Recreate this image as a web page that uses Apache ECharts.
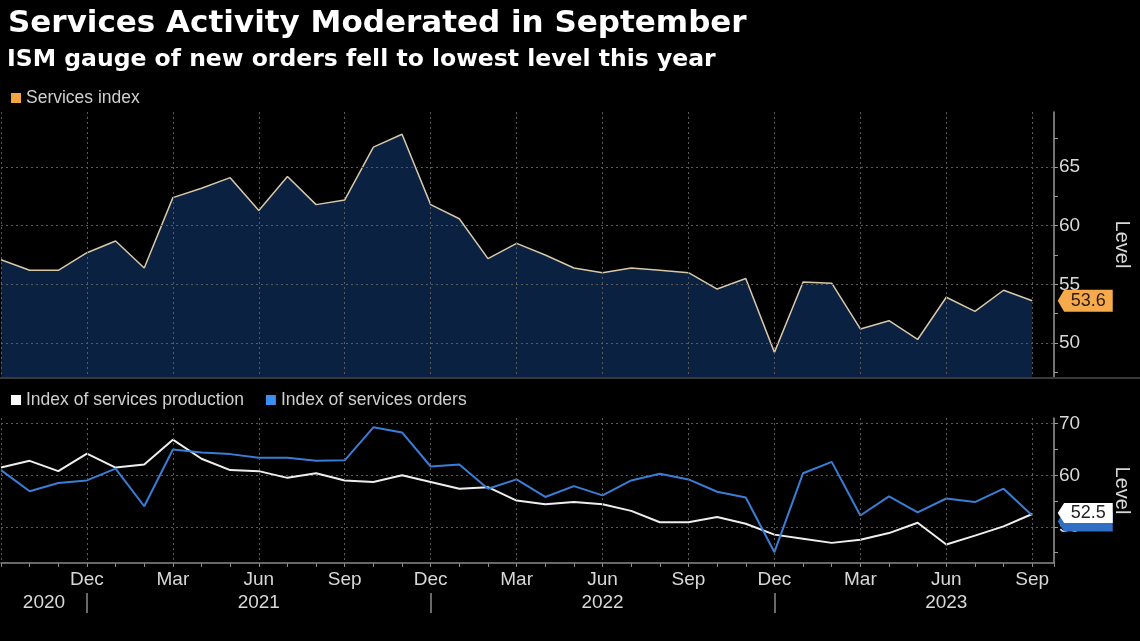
<!DOCTYPE html>
<html>
<head>
<meta charset="utf-8">
<script src="https://cdn.jsdelivr.net/npm/echarts@6/dist/echarts.min.js"></script>
<style>
html,body{margin:0;padding:0;background:#000;}
#chart{width:1140px;height:641px;}
</style>
</head>
<body>
<div id="chart"></div>
<script>
// ---- data ----
const months = [
  'Sep 2020','Oct 2020','Nov 2020','Dec 2020',
  'Jan 2021','Feb 2021','Mar 2021','Apr 2021','May 2021','Jun 2021','Jul 2021','Aug 2021','Sep 2021','Oct 2021','Nov 2021','Dec 2021',
  'Jan 2022','Feb 2022','Mar 2022','Apr 2022','May 2022','Jun 2022','Jul 2022','Aug 2022','Sep 2022','Oct 2022','Nov 2022','Dec 2022',
  'Jan 2023','Feb 2023','Mar 2023','Apr 2023','May 2023','Jun 2023','Jul 2023','Aug 2023','Sep 2023'
];
const servicesIndex = [
  57.1, 56.2, 56.2, 57.7,
  58.7, 56.4, 62.4, 63.2, 64.1, 61.3, 64.2, 61.8, 62.2, 66.7, 67.8, 61.8,
  60.6, 57.2, 58.5, 57.5, 56.4, 56.0, 56.4, 56.2, 56.0, 54.6, 55.5, 49.2,
  55.2, 55.1, 51.2, 51.9, 50.3, 53.9, 52.7, 54.5, 53.6
];
const servicesProduction = [
  61.5, 62.8, 60.8, 64.2,
  61.5, 62.1, 66.9, 63.2, 61.0, 60.8, 59.5, 60.4, 59.0, 58.7, 60.0, 58.7,
  57.4, 57.7, 55.1, 54.4, 54.8, 54.4, 53.1, 50.9, 50.9, 51.9, 50.6, 48.5,
  47.7, 46.9, 47.5, 48.8, 50.8, 46.6, 48.3, 50.1, 52.5
];
const servicesOrders = [
  61.0, 56.9, 58.5, 59.0,
  61.3, 54.0, 65.0, 64.4, 64.1, 63.4, 63.4, 62.8, 62.9, 69.3, 68.3, 61.7,
  62.1, 57.4, 59.2, 55.8, 57.9, 56.1, 59.0, 60.3, 59.2, 56.8, 55.7, 45.1,
  60.4, 62.6, 52.2, 55.9, 52.8, 55.5, 54.8, 57.4, 52.2
];
const topTicks = [50, 55, 60, 65];
const topMinorTicks = [47.5, 50, 52.5, 55, 57.5, 60, 62.5, 65, 67.5];
const bottomTicks = [50, 60, 70];
const bottomMinorTicks = [45, 50, 55, 60, 65, 70];

// ---- helpers ----
// month positions on the x scale start at 3 (Sep 2020) so ticks every 3 months fall on Sep/Dec/Mar/Jun
const START = 3;
const toPairs = arr => arr.map((v, i) => [i + START, v]);
const lastIdx = months.length - 1;
const xMin = START;
const xMax = lastIdx + START + 0.76;
const monthName = i => months[i].split(' ')[0];
const yearOf = i => months[i].split(' ')[1];
const years = [...new Set(months.map((m, i) => yearOf(i)))];
const decIdx = months.map((m, i) => i).filter(i => monthName(i) === 'Dec' && i < lastIdx).map(i => i + START);
const yearCenters = years.map(y => {
  const decPrev = months.indexOf('Dec ' + (Number(y) - 1));
  const decThis = months.indexOf('Dec ' + y);
  if (decPrev < 0) return decThis / 2 + START;
  return decPrev + 6 + START;
});

const FONT = 'Liberation Sans';
const labelColor = '#d8d8d8';
const gridDot = { type: [2, 3], color: '#5a5a5a', width: 1 };
const tagPath = 'path://M0,11L7,0H60V22H7Z';
const gridMarkLine = ticks => ({
  silent: true, symbol: 'none', z: 5, animation: false,
  label: { show: false }, emphasis: { disabled: true },
  lineStyle: gridDot,
  data: ticks.map(v => ({ yAxis: v }))
});

const chart = echarts.init(document.getElementById('chart'));
chart.setOption({
  backgroundColor: '#000',
  animation: false,
  textStyle: { fontFamily: FONT },
  title: [
    { text: 'Services Activity Moderated in September', left: 3, top: 3,
      textStyle: { color: '#fff', fontFamily: 'DejaVu Sans', fontWeight: 'bold', fontSize: 31 } },
    { text: 'ISM gauge of new orders fell to lowest level this year', left: 2, top: 43,
      textStyle: { color: '#fff', fontFamily: 'DejaVu Sans', fontWeight: 'bold', fontSize: 23.5 } }
  ],
  legend: [
    { left: 6, top: 84, icon: 'rect', itemWidth: 10, itemHeight: 10, itemGap: 17,
      textStyle: { color: '#cfcfcf', fontSize: 17.5, fontFamily: FONT },
      data: [{ name: 'Services index', itemStyle: { color: '#f5a442' } }] },
    { left: 6, top: 386, icon: 'rect', itemWidth: 10, itemHeight: 10, itemGap: 22,
      textStyle: { color: '#cfcfcf', fontSize: 17.5, fontFamily: FONT },
      data: [{ name: 'Index of services production', itemStyle: { color: '#ffffff' } },
             { name: 'Index of services orders', itemStyle: { color: '#3d8fef' } }] }
  ],
  graphic: [
    { type: 'rect', left: 0, top: 377, shape: { width: 1140, height: 2 }, style: { fill: '#3a3a3a' }, z: 5 }
  ],
  grid: [
    { left: 1, right: 85, top: 112, height: 265 },
    { left: 1, right: 85, top: 418, height: 145 }
  ],
  xAxis: [
    { gridIndex: 0, type: 'value', min: xMin, max: xMax, interval: 3, z: 3,
      axisLine: { show: false }, axisTick: { show: false }, axisLabel: { show: false },
      splitLine: { show: true, showMaxLine: false, lineStyle: gridDot } },
    { gridIndex: 1, type: 'value', min: xMin, max: xMax, interval: 3, z: 3,
      axisLine: { show: true, lineStyle: { color: '#8a8a8a', width: 1.5 } },
      axisTick: { show: true, length: 4, lineStyle: { color: '#8a8a8a' } },
      minorTick: { show: true, splitNumber: 3, length: 4, lineStyle: { color: '#8a8a8a' } },
      axisLabel: { color: labelColor, fontSize: 19, margin: 7, showMinLabel: false,
        formatter: v => { const i = v - START; return (Number.isInteger(i) && i > 0 && i <= lastIdx) ? monthName(i) : ''; } },
      splitLine: { show: true, showMaxLine: false, lineStyle: gridDot } },
    { gridIndex: 1, type: 'value', min: xMin, max: xMax, position: 'bottom', offset: 30,
      axisLine: { show: false },
      axisTick: { show: true, customValues: decIdx, length: 20, lineStyle: { color: '#8a8a8a', width: 1.5 } },
      axisLabel: { show: true, customValues: yearCenters, color: labelColor, fontSize: 19, margin: 0,
        formatter: v => years[yearCenters.indexOf(v)] || '' },
      splitLine: { show: false } }
  ],
  yAxis: [
    { gridIndex: 0, type: 'value', position: 'right', min: 47.1, max: 69.7,
      axisLine: { show: true, lineStyle: { color: '#9a9a9a', width: 1.5 } },
      axisTick: { show: true, length: 4, customValues: topMinorTicks, lineStyle: { color: '#9a9a9a' } },
      axisLabel: { customValues: topTicks, color: labelColor, fontSize: 19, margin: 5 },
      splitLine: { show: false },
      name: 'Level', nameLocation: 'middle', nameRotate: -90, nameGap: 58,
      nameTextStyle: { color: labelColor, fontSize: 20 } },
    { gridIndex: 1, type: 'value', position: 'right', min: 43, max: 71.1,
      axisLine: { show: true, lineStyle: { color: '#9a9a9a', width: 1.5 } },
      axisTick: { show: true, length: 4, customValues: bottomMinorTicks, lineStyle: { color: '#9a9a9a' } },
      axisLabel: { customValues: bottomTicks, color: labelColor, fontSize: 19, margin: 5 },
      splitLine: { show: false },
      name: 'Level', nameLocation: 'middle', nameRotate: -90, nameGap: 58,
      nameTextStyle: { color: labelColor, fontSize: 20 } }
  ],
  series: [
    { name: 'Services index', type: 'line', xAxisIndex: 0, yAxisIndex: 0, z: 2,
      data: toPairs(servicesIndex), symbol: 'none',
      itemStyle: { color: '#f5a442' },
      lineStyle: { color: '#d8c8a8', width: 1.5 },
      areaStyle: { color: '#0b2142', opacity: 1, origin: 'start' },
      markLine: gridMarkLine(topTicks) },
    { name: 'Index of services production', type: 'line', xAxisIndex: 1, yAxisIndex: 1, z: 2,
      data: toPairs(servicesProduction), symbol: 'none',
      itemStyle: { color: '#ffffff' }, lineStyle: { color: '#eeeeee', width: 2 },
      markLine: Object.assign(gridMarkLine(bottomTicks), { z: 1 }) },
    { name: 'Index of services orders', type: 'line', xAxisIndex: 1, yAxisIndex: 1, z: 2,
      data: toPairs(servicesOrders), symbol: 'none',
      itemStyle: { color: '#3d8fef' }, lineStyle: { color: '#3a7dd6', width: 2 } },
    { type: 'scatter', xAxisIndex: 0, yAxisIndex: 0, z: 10, silent: true,
      data: [[lastIdx + START, servicesIndex[lastIdx]]],
      symbol: tagPath, symbolSize: [55, 22], symbolOffset: [53, 0],
      itemStyle: { color: '#f6aa4c', opacity: 1 },
      label: { show: true, position: 'inside', offset: [3, 0], color: '#2b1d0a', fontSize: 18,
        formatter: p => p.value[1].toFixed(1) } },
    { type: 'scatter', xAxisIndex: 1, yAxisIndex: 1, z: 9, silent: true,
      data: [[lastIdx + START, servicesOrders[lastIdx]]],
      symbol: tagPath, symbolSize: [55, 20], symbolOffset: [53, 6],
      itemStyle: { color: '#2f6fc4', opacity: 1 },
      label: { show: false } },
    { type: 'scatter', xAxisIndex: 1, yAxisIndex: 1, z: 10, silent: true,
      data: [[lastIdx + START, servicesProduction[lastIdx]]],
      symbol: tagPath, symbolSize: [55, 20], symbolOffset: [53, -1],
      itemStyle: { color: '#ffffff', opacity: 1 },
      label: { show: true, position: 'inside', offset: [3, 0], color: '#222222', fontSize: 18,
        formatter: p => p.value[1].toFixed(1) } }
  ]
});
</script>
</body>
</html>
